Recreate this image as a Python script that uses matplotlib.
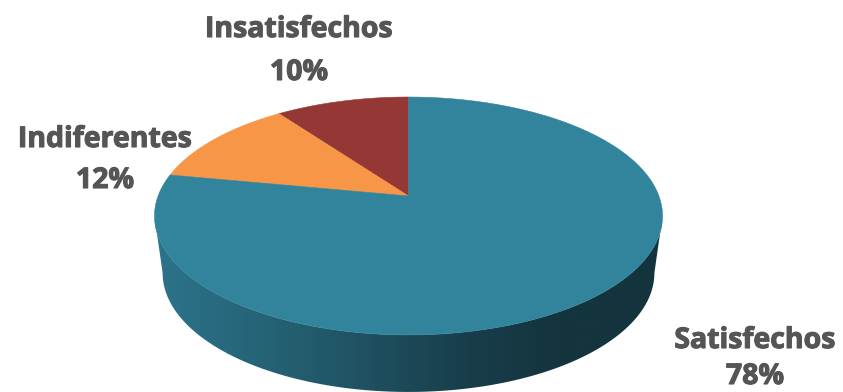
#! /usr/bin/env python3

import numpy as np
import matplotlib.pyplot as plt
import matplotlib.patheffects as pe
from matplotlib.colors import LinearSegmentedColormap
from matplotlib.patches import Polygon

labels = ['Insatisfechos', 'Indiferentes', 'Satisfechos']
values = [10, 12, 78]
colors = ['#953735', '#f79646', '#31849b']
label_pos = [(299, 37, 80), (105, 147, 188), (755, 348, 384)]

side_stops = [(0.0, '#2c748b'), (0.3, '#235c6d'), (0.6, '#193f4c'), (0.8, '#14343e'), (1.0, '#14343e')]

WIDTH, HEIGHT = 843, 392
CX, CY = 408.5, 196
AX_X, AX_Y, PERSP = 250.4, 115.6, 0.168
DEPTH, BASE_SCALE = 57, 0.968


def project(theta, radius=1.0, scale=1.0, drop=0):
    # theta is measured counter-clockwise from the top of the disc
    u = -np.sin(theta) * radius
    v = np.cos(theta) * radius
    w = 1 + PERSP * v
    return CX + scale * AX_X * u / w, CY + drop - AX_Y * v / w


fig = plt.figure(figsize=(WIDTH / 100, HEIGHT / 100), dpi=100)
ax = fig.add_axes([0, 0, 1, 1])

# side wall, shaded left to right, between the widest points of the rim
front = np.radians(np.linspace(99.7, 260.3, 200))
tx, ty = project(front)
bx, by = project(front, scale=BASE_SCALE, drop=DEPTH)
wall = Polygon(np.column_stack([np.r_[tx, bx[::-1]], np.r_[ty, by[::-1]]]), closed=True,
               transform=ax.transData, facecolor='none', edgecolor='none')
ax.add_patch(wall)
cmap = LinearSegmentedColormap.from_list('side', side_stops)
img = ax.imshow(np.linspace(0, 1, 256).reshape(1, -1), cmap=cmap, aspect='auto',
                extent=(155, 662, HEIGHT, 0), zorder=1)
img.set_clip_path(wall)

# top face, slices run counter-clockwise from twelve o'clock
edges = np.cumsum([0] + values) / sum(values) * 2 * np.pi
for i in range(len(values)):
    theta = np.linspace(edges[i], edges[i + 1], 300)
    x, y = project(theta)
    ax.fill(np.r_[CX, x], np.r_[CY, y], color=colors[i], lw=0.4, zorder=2)

heavy = [pe.withStroke(linewidth=0.8, foreground='#555555')]
for name, val, (x, y1, y2) in zip(labels, values, label_pos):
    for s, y in ((name, y1), ('%d%%' % val, y2)):
        ax.text(x, y, s, ha='center', va='baseline', color='#555555', fontsize=20.5,
                family='Open Sans', weight='bold', path_effects=heavy)

ax.set_xlim(0, WIDTH)
ax.set_ylim(HEIGHT, 0)
ax.axis('off')
fig.savefig('out.png', dpi=100)
